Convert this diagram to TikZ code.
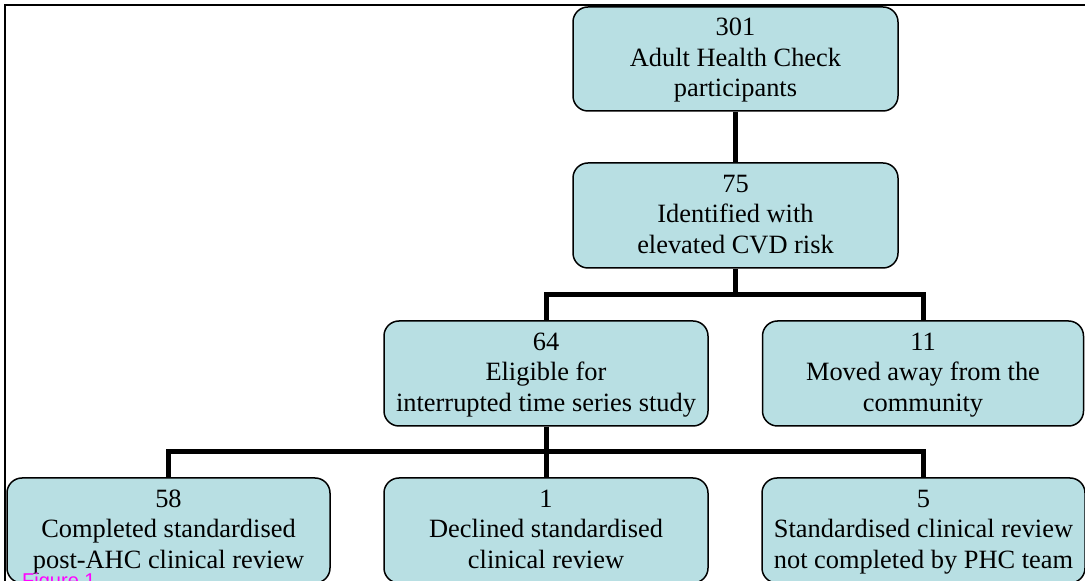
\documentclass[tikz,border=0pt]{standalone}
\usepackage{fontspec}
\setmainfont{Liberation Serif}
\newfontfamily\figfont{Liberation Sans}
\definecolor{boxfill}{RGB}{184,223,227}
\definecolor{figmag}{RGB}{255,0,255}
\newcommand{\tst}{\rule{0pt}{21pt}}
\newcommand{\bst}{\rule[-6pt]{0pt}{6pt}}
\tikzset{
  flowbox/.style={draw=black, line width=1.5pt, fill=boxfill, rounded corners=15pt,
    minimum width=#1, minimum height=105pt, inner sep=0pt, align=center,
    font=\fontsize{26.4pt}{30.5pt}\selectfont},
  conn/.style={line width=5pt, line cap=butt, draw=black},
}
\begin{document}
\begin{tikzpicture}[x=1pt,y=1pt]
\useasboundingbox (0,0) rectangle (1085,581);
\clip (0,0) rectangle (1085,581);
% frame
\draw[line width=2pt] (5,0) -- (5,576) -- (1085,576);
% nodes
\node[flowbox=325pt, minimum height=104pt] (n301) at (735.5,522) {\tst 301\\Adult Health Check\\participants\bst};
\node[flowbox=325pt] (n75) at (735.5,365.5) {\tst 75\\Identified with\\elevated CVD risk\bst};
\node[flowbox=324pt] (n64) at (546,207.5) {\tst 64\\Eligible for\\interrupted time series study\bst};
\node[flowbox=321pt] (n11) at (923,207.5) {\tst 11\\Moved away from the\\community\bst};
\node[flowbox=323pt] (n58) at (168.5,50.5) {\tst 58\\Completed standardised\\post-AHC clinical review\bst};
\node[flowbox=324pt] (n1) at (546,50.5) {\tst 1\\Declined standardised\\clinical review\bst};
\node[flowbox=323pt] (n5) at (923.5,50.5) {\tst 5\\Standardised clinical review\\not completed by PHC team\bst};
% connectors
\coordinate (b1) at (n75.south |- 0,286);
\coordinate (b2) at (n64.south |- 0,129);
\draw[conn] (n301.south) -- (n75.north);
\draw[conn] (n75.south) -- (b1);
\draw[conn] (b1) -| (n64.north);
\draw[conn] (b1) -| (n11.north);
\draw[conn] (n64.south) -- (b2);
\draw[conn] (b2) -| (n58.north);
\draw[conn] (b2) -| (n5.north);
\draw[conn] (b2) -- (n1.north);
% figure label
\node[anchor=north west, inner sep=0pt, text=figmag, font=\figfont\fontsize{20pt}{24pt}\selectfont] (fig) at (22,8) {Figure 1};
\end{tikzpicture}
\end{document}
